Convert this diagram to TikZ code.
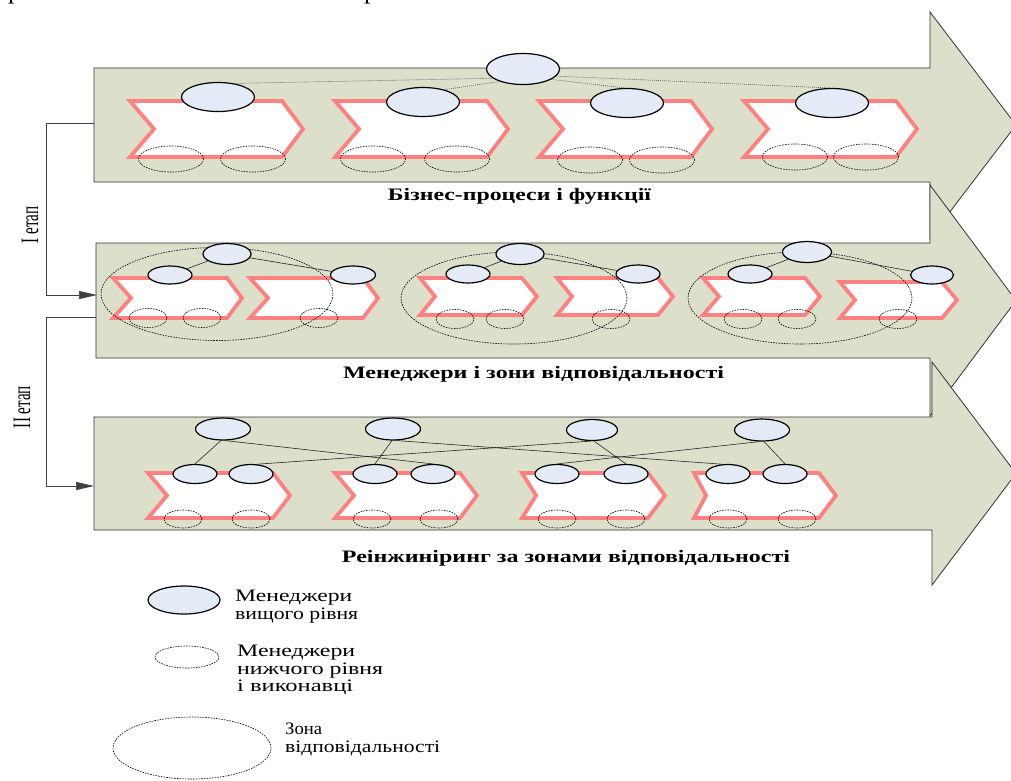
\documentclass[tikz,border=0pt]{standalone}
\usepackage{fontspec}
\setmainfont{Liberation Serif}
\usepackage{graphicx}
\usetikzlibrary{shapes.geometric,arrows.meta}

\definecolor{bandfill}{RGB}{220,224,203}
\definecolor{chevred}{RGB}{255,128,128}
\definecolor{mgrfill}{RGB}{228,235,246}

% stretch a text box to a given width, keeping its height
\newcommand\fitw[2]{\resizebox{#1}{\height}{#2}}
% broad stage arrow: left, top, bottom, back of head, head top, head bottom, tip x, tip y
\newcommand\bandarrow[8]{%
  \draw[band] (#1,#2) -- (#4,#2) -- (#4,#5) -- (#7,#8) -- (#4,#6) -- (#4,#3) -- (#1,#3) -- cycle;}
% process chevron: left, top, bottom, right, notch depth, point depth
\newcommand\procchevron[6]{%
  \draw[chev] (#1,#2) -- ({#4-#6},#2) -- (#4,{(#2+#3)/2}) -- ({#4-#6},#3) -- (#1,#3) -- ({#1+#5},{(#2+#3)/2}) -- cycle;}

\tikzset{
  band/.style={draw=black!80, line width=0.8pt, fill=bandfill},
  chev/.style={draw=chevred, line width=3.8pt, fill=white, line join=miter},
  sz/.style 2 args={minimum width=#1pt, minimum height=#2pt},
  topmgr/.style={ellipse, draw=black, line width=1.2pt, fill=mgrfill, inner sep=0pt},
  lowmgr/.style={ellipse, draw=black, line width=0.6pt, dash pattern=on 1.6pt off 1.1pt, inner sep=0pt},
  zone/.style={ellipse, draw=black, line width=0.6pt, dash pattern=on 1.6pt off 1.1pt, inner sep=0pt},
  link/.style={draw=black!85, line width=0.6pt},
  dotlink/.style={draw=black!65, line width=0.6pt, dash pattern=on 1pt off 1pt},
  stage/.style={draw=black!75, line width=0.7pt},
  caption/.style={inner sep=0pt, anchor=base, font=\fontsize{17.5}{17.5}\selectfont\bfseries},
  legend/.style={inner sep=0pt, anchor=north west, align=left, font=\fontsize{17.5}{17.5}\selectfont},
  stagelbl/.style={inner sep=0pt, rotate=90, font=\fontsize{25}{25}\selectfont},
  frag/.style={inner sep=0pt, anchor=base west, font=\fontsize{26}{26}\selectfont},
}

\begin{document}
\begin{tikzpicture}[x=1pt,y=-1pt]
\clip (0,0) rectangle (1011,780);
\fill[white] (0,0) rectangle (1011,780);

% line of text cut off at the upper edge
\begin{scope}
  \clip (0,0) rectangle (1011,8);
  \node[frag] (frag1) at (8,-1.5) {р};
  \node[frag] (frag2) at (364,-1.5) {р};
\end{scope}

% ---------- stage 1: business processes and functions ----------
\bandarrow{94}{68}{182}{930}{12}{238}{1016}{125}
\procchevron{130}{101}{157}{303}{24}{21}
\procchevron{335}{101}{157}{508}{24}{21}
\procchevron{539}{101}{157}{712}{24}{21}
\procchevron{744}{101}{157}{917}{24}{21}

\node[lowmgr, sz={65}{26}] (r1l1a) at (171,159) {};
\node[lowmgr, sz={65}{26}] (r1l1b) at (253,159) {};
\node[lowmgr, sz={65}{26}] (r1l2a) at (373,159) {};
\node[lowmgr, sz={65}{26}] (r1l2b) at (457,159) {};
\node[lowmgr, sz={65}{26}] (r1l3a) at (590,160) {};
\node[lowmgr, sz={65}{26}] (r1l3b) at (662,160) {};
\node[lowmgr, sz={65}{26}] (r1l4a) at (795,157) {};
\node[lowmgr, sz={65}{26}] (r1l4b) at (866,157) {};

\node[topmgr, sz={73}{31}] (r1top) at (523,69) {};
\node[topmgr, sz={73}{29}] (r1m1) at (218,97) {};
\node[topmgr, sz={73}{29}] (r1m2) at (423,102) {};
\node[topmgr, sz={73}{29}] (r1m3) at (627,103) {};
\node[topmgr, sz={73}{29}] (r1m4) at (832,103) {};

\draw[dotlink] (r1top.197) -- (r1m1.40);
\draw[dotlink] (r1top.208) -- (r1m2.30);
\draw[dotlink] (r1top.340) -- (r1m3.100);
\draw[dotlink] (r1top.348) -- (r1m4.100);

\node[caption] (cap1) at (519.5,200) {\fitw{263pt}{Бізнес-процеси і функції}};

% ---------- stage 2: managers and areas of responsibility ----------
\bandarrow{96}{243}{358}{930}{185}{416}{1016}{300.5}
\procchevron{113}{278}{318}{242}{18}{15}
\procchevron{250}{278}{318}{378}{18}{15}
\procchevron{420}{278}{315}{537}{15}{15}
\procchevron{557}{278}{315}{673}{15}{15}
\procchevron{703}{278}{315}{820}{16}{15}
\procchevron{840}{282}{318}{957}{15}{15}

\node[lowmgr, sz={38}{19}] (r2l1) at (148,318) {};
\node[lowmgr, sz={38}{19}] (r2l2) at (202,318) {};
\node[lowmgr, sz={38}{19}] (r2l3) at (319,318) {};
\node[lowmgr, sz={38}{19}] (r2l4) at (455,319) {};
\node[lowmgr, sz={38}{19}] (r2l5) at (505,319) {};
\node[lowmgr, sz={38}{19}] (r2l6) at (611,319) {};
\node[lowmgr, sz={38}{19}] (r2l7) at (743,319) {};
\node[lowmgr, sz={38}{19}] (r2l8) at (797,319) {};
\node[lowmgr, sz={38}{19}] (r2l9) at (898,319) {};

\node[zone, sz={232}{93}] (r2z1) at (217,294) {};
\node[zone, sz={226}{92}] (r2z2) at (514,298) {};
\node[zone, sz={224}{92}] (r2z3) at (800,298) {};

\node[topmgr, sz={48}{21}] (r2t1) at (227,254) {};
\node[topmgr, sz={48}{21}] (r2t2) at (520,254) {};
\node[topmgr, sz={49}{21}] (r2t3) at (807,252) {};
\node[topmgr, sz={44}{18}] (r2m1) at (170,275) {};
\node[topmgr, sz={45}{18}] (r2m2) at (353,275) {};
\node[topmgr, sz={44}{18}] (r2m3) at (468,274) {};
\node[topmgr, sz={44}{18}] (r2m4) at (638,274) {};
\node[topmgr, sz={44}{18}] (r2m5) at (750,274) {};
\node[topmgr, sz={43}{18}] (r2m6) at (932,275) {};

\draw[link] (r2t1) -- (r2m1);
\draw[link] (r2t1) -- (r2m2);
\draw[link] (r2t2) -- (r2m3);
\draw[link] (r2t2) -- (r2m4);
\draw[link] (r2t3) -- (r2m5);
\draw[link] (r2t3) -- (r2m6);

\node[caption] (cap2) at (533.5,378) {\fitw{381pt}{Менеджери і зони відповідальності}};

% ---------- stage 3: reengineering by areas of responsibility ----------
\bandarrow{94}{417}{530}{932}{362}{585}{1016}{473.5}
\procchevron{148}{473}{518}{290}{19}{17}
\procchevron{335}{473}{518}{477}{19}{17}
\procchevron{522}{473}{518}{665}{14}{17}
\procchevron{694}{473}{518}{836}{12}{17}

\node[lowmgr, sz={38}{18}] (r3l1) at (183,519) {};
\node[lowmgr, sz={38}{18}] (r3l2) at (251,519) {};
\node[lowmgr, sz={38}{18}] (r3l3) at (372,519) {};
\node[lowmgr, sz={38}{18}] (r3l4) at (439,519) {};
\node[lowmgr, sz={38}{18}] (r3l5) at (557,519) {};
\node[lowmgr, sz={38}{18}] (r3l6) at (626,519) {};
\node[lowmgr, sz={38}{18}] (r3l7) at (728,519) {};
\node[lowmgr, sz={38}{18}] (r3l8) at (797,519) {};

\node[topmgr, sz={55}{22}] (r3t1) at (223,429) {};
\node[topmgr, sz={55}{22}] (r3t2) at (393,429) {};
\node[topmgr, sz={51}{21}] (r3t3) at (592,430) {};
\node[topmgr, sz={55}{22}] (r3t4) at (762,430) {};
\node[topmgr, sz={44}{19}] (r3m1) at (195,474) {};
\node[topmgr, sz={44}{19}] (r3m2) at (251,474) {};
\node[topmgr, sz={44}{19}] (r3m3) at (375,474) {};
\node[topmgr, sz={44}{19}] (r3m4) at (433,474) {};
\node[topmgr, sz={44}{19}] (r3m5) at (557,474) {};
\node[topmgr, sz={44}{19}] (r3m6) at (626,474) {};
\node[topmgr, sz={44}{19}] (r3m7) at (728,474) {};
\node[topmgr, sz={44}{19}] (r3m8) at (785,474) {};

\draw[link] (r3t1.-100) -- (r3m1.north);
\draw[link] (r3t1.-80) -- (r3m4.north);
\draw[link] (r3t2.-95) -- (r3m3.north);
\draw[link] (r3t2.-75) -- (r3m7.120);
\draw[link] (r3t3.-80) -- (r3m6.north);
\draw[link] (r3t3.-95) -- (r3m2.60);
\draw[link] (r3t4.-80) -- (r3m8.north);
\draw[link] (r3t4.-100) -- (r3m5.north);

\node[caption] (cap3) at (566,562) {\fitw{448pt}{Реінжиніринг за зонами відповідальності}};

% ---------- stage connectors ----------
\coordinate (s1from) at (94,123);
\coordinate (s1to) at (97,295);
\draw[stage, -{Triangle[length=18pt,width=8pt]}] (s1from) -- ++(-48,0) |- (s1to);
\node[stagelbl] (stage1) at (30,225) {\fitw{37pt}{I етап}};

\coordinate (s2from) at (96,317);
\coordinate (s2to) at (94,486);
\draw[stage, -{Triangle[length=18pt,width=8pt]}] (s2from) -- ++(-50,0) |- (s2to);
\node[stagelbl] (stage2) at (22,407) {\fitw{42pt}{II етап}};

% ---------- legend ----------
\node[topmgr, sz={72}{28}] (lgtop) at (184,600) {};
\node[legend] (lgtoptxt) at (235,590) {\fitw{117pt}{Менеджери}\\\fitw{123pt}{вищого рівня}};

\node[lowmgr, sz={64}{22}] (lglow) at (187,657) {};
\node[legend] (lglowtxt) at (237,645) {\fitw{118pt}{Менеджери}\\\fitw{146pt}{нижчого рівня}\\\fitw{116pt}{і виконавці}};

\node[zone, sz={158}{62}] (lgzone) at (192,748) {};
\node[legend] (lgzonetxt) at (285,723) {\fitw{37pt}{Зона}\\\fitw{155pt}{відповідальності}};
\end{tikzpicture}
\end{document}
